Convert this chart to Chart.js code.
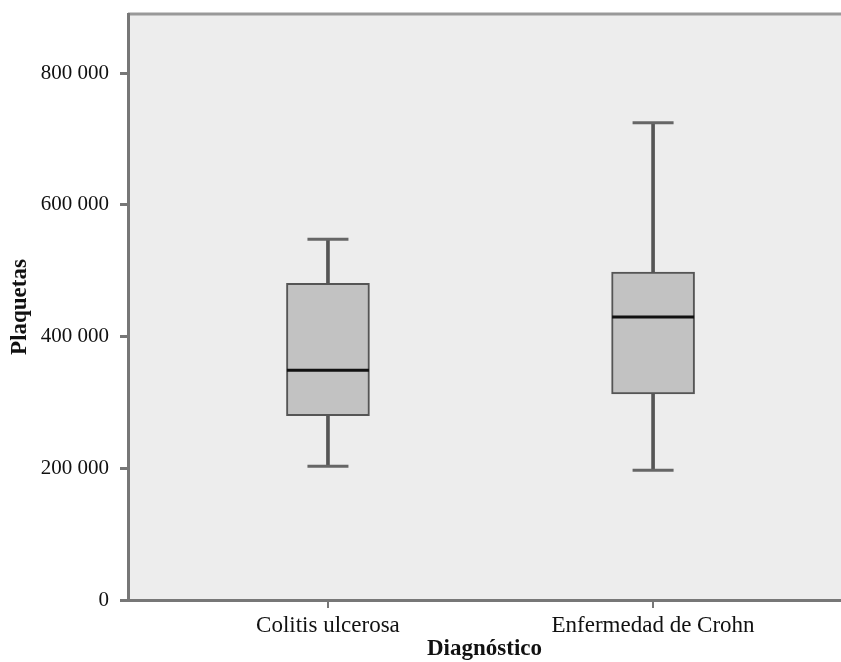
<!DOCTYPE html>
<html>
<head>
<meta charset="utf-8">
<script src="https://cdn.jsdelivr.net/npm/chart.js@4/dist/chart.umd.min.js"></script>
<style>
  body { margin: 0; background: #fff; }
  .chart { width: 841px; height: 662px; }
</style>
</head>
<body>
<div class="chart"><canvas id="boxplot"></canvas></div>
<script>
const categories = ['Colitis ulcerosa', 'Enfermedad de Crohn']
const whiskerLow = [203000, 197000]
const q1 = [280000, 313000]
const median = [349000, 430000]
const q3 = [481000, 498000]
const whiskerHigh = [548000, 725000]
const yTicks = [0, 200000, 400000, 600000, 800000]

const formatThousands = (v) => String(v).replace(/\B(?=(\d{3})+(?!\d))/g, ' ')
const points = (values) => values.map((v, i) => ({ x: i, y: v }))
const ranges = (a, b) => a.map((v, i) => ({ x: i, y: [v, b[i]] }))

const serif = "'Liberation Serif', 'DejaVu Serif', serif"

// the median/cap lines are wide point markers; don't let them pad the layout
Chart.registry.getController('scatter').prototype.getMaxOverflow = function () { return 0 }

const plotBackground = {
  id: 'plotBackground',
  beforeDraw(chart) {
    const { ctx, chartArea } = chart
    ctx.save()
    ctx.fillStyle = '#ededed'
    ctx.fillRect(chartArea.left, chartArea.top, chartArea.width, chartArea.height)
    ctx.strokeStyle = '#999'
    ctx.lineWidth = 3
    ctx.beginPath()
    ctx.moveTo(chartArea.left, chartArea.top)
    ctx.lineTo(chartArea.right, chartArea.top)
    ctx.stroke()
    ctx.restore()
  }
}

const ctx = document.getElementById('boxplot').getContext('2d')
new Chart(ctx, {
  type: 'bar',
  data: {
    datasets: [
      {
        label: 'lower whisker',
        data: ranges(whiskerLow, q1),
        backgroundColor: '#555',
        barThickness: 3,
        grouped: false,
        order: 4
      },
      {
        label: 'upper whisker',
        data: ranges(q3, whiskerHigh),
        backgroundColor: '#555',
        barThickness: 3,
        grouped: false,
        order: 3
      },
      {
        label: 'box',
        data: ranges(q1, q3),
        backgroundColor: '#c2c2c2',
        borderColor: '#555',
        borderWidth: 2,
        borderSkipped: false,
        barThickness: 83,
        grouped: false,
        order: 2
      },
      {
        type: 'scatter',
        label: 'median',
        data: points(median),
        pointStyle: 'line',
        pointRadius: 41,
        pointHoverRadius: 41,
        pointBorderColor: '#111',
        pointBorderWidth: 3,
        clip: false,
        order: 1
      },
      {
        type: 'scatter',
        label: 'caps',
        data: points(whiskerLow).concat(points(whiskerHigh)),
        pointStyle: 'line',
        pointRadius: 20.5,
        pointHoverRadius: 20.5,
        pointBorderColor: '#666',
        pointBorderWidth: 3,
        clip: false,
        order: 1
      }
    ]
  },
  options: {
    responsive: true,
    maintainAspectRatio: false,
    animation: false,
    layout: { padding: { top: 14, right: 0, left: 0, bottom: 0 } },
    plugins: {
      legend: { display: false },
      tooltip: { enabled: false }
    },
    scales: {
      x: {
        type: 'linear',
        min: -0.615,
        max: 1.578,
        offset: false,
        afterBuildTicks: (scale) => { scale.ticks = categories.map((c, i) => ({ value: i })) },
        afterFit: (scale) => {
          scale.height = 62
          scale.paddingLeft = 0
          scale.paddingRight = 0
        },
        ticks: {
          color: '#111',
          padding: 4,
          font: { family: serif, size: 23 },
          callback: (v) => categories[v]
        },
        grid: { drawOnChartArea: false, offset: false, tickLength: 8, color: '#777', lineWidth: 2 },
        border: { display: true, color: '#777', width: 3 },
        title: {
          display: true,
          text: 'Diagnóstico',
          color: '#111',
          font: { family: serif, size: 23, weight: 'bold' },
          padding: { top: 0, bottom: -1 }
        }
      },
      y: {
        min: 0,
        max: 890000,
        afterBuildTicks: (scale) => { scale.ticks = yTicks.map((v) => ({ value: v })) },
        afterFit: (scale) => {
          scale.width = 128
          scale.paddingTop = 0
          scale.paddingBottom = 0
        },
        ticks: {
          color: '#111',
          padding: 11,
          font: { family: serif, size: 21 },
          callback: (v) => formatThousands(v)
        },
        grid: { drawOnChartArea: false, tickLength: 8, color: '#777', lineWidth: 3 },
        border: { display: true, color: '#777', width: 3 },
        title: {
          display: true,
          text: 'Plaquetas',
          color: '#111',
          font: { family: serif, size: 23, weight: 'bold' },
          padding: { top: 6, bottom: 0 }
        }
      }
    }
  },
  plugins: [plotBackground]
})
</script>
</body>
</html>
